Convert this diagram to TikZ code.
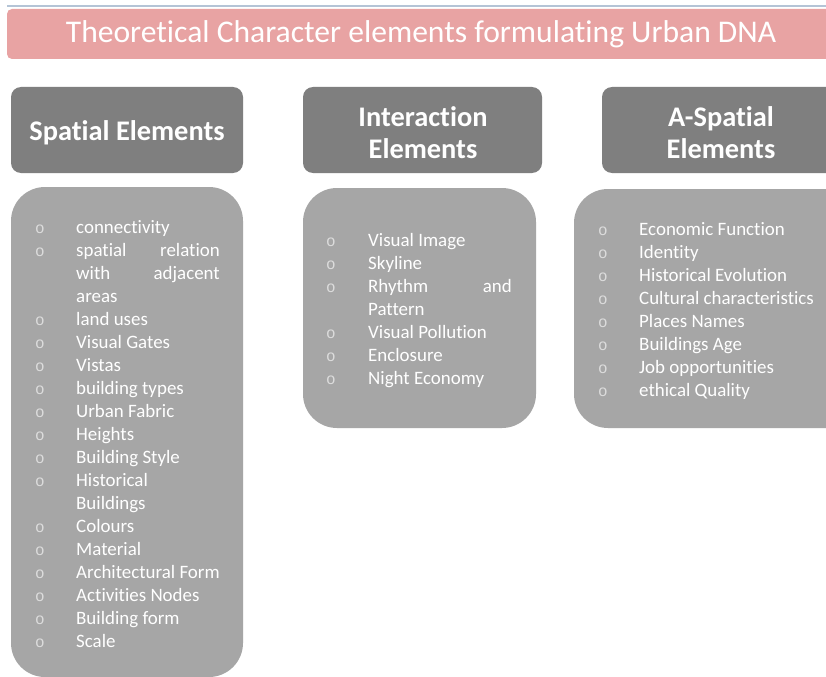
\documentclass[tikz,border=0pt]{standalone}
\usepackage{fontspec}
\setmainfont{Carlito}[Ligatures=NoCommon,RawFeature={-liga;-clig;-calt;-dlig}]
\newfontfamily\bulletfont{Liberation Mono}
\definecolor{titlepink}{HTML}{E8A3A3}
\definecolor{hdrgrey}{HTML}{7F7F7F}
\definecolor{boxgrey}{HTML}{A6A6A6}
\definecolor{bulgrey}{HTML}{DCDCDC}
\definecolor{topline}{HTML}{B4C4D6}
\begin{document}
\begin{tikzpicture}[x=1bp,y=-1bp,
  hdrfill/.style={fill=hdrgrey, rounded corners=10bp},
  boxfill/.style={fill=boxgrey, rounded corners=34bp},
  hdrtext/.style={text=white, align=center, inner sep=0, yshift=-2bp, font=\bfseries\fontsize{28.5}{32}\selectfont},
  item/.style={anchor=mid west, inner sep=0, yshift=-4bp, text=white, font=\fontsize{19}{23}\selectfont},
  itemr/.style={anchor=mid east, inner sep=0, yshift=-4bp, text=white, font=\fontsize{19}{23}\selectfont},
  bul/.style={anchor=mid, inner sep=0, yshift=-4bp, text=bulgrey, font=\bulletfont\fontsize{16}{18}\selectfont}]
\clip (0,0) rectangle (826,677);
\fill[white] (0,0) rectangle (826,677);
% top line and title
\draw[topline, line width=2bp] (7,6) -- (830,6);
\fill[titlepink, rounded corners=5bp] (7,9) rectangle (850,59);
\node[text=white, inner sep=0, font=\fontsize{31.7}{36}\selectfont] (title) at (421,34) {Theoretical Character elements formulating Urban DNA};
% header boxes
\fill[hdrfill] (11,87) rectangle (243,173);
\fill[hdrfill] (303,87) rectangle (542,173);
\fill[hdrfill] (602,87) rectangle (860,173);
\node[hdrtext] (h1) at (127,131) {Spatial Elements};
\node[hdrtext] (h2) at (423,131) {Interaction\\Elements};
\node[hdrtext] (h3) at (721,131) {A-Spatial\\Elements};
% content boxes
\fill[boxfill] (11,187) rectangle (243,677);
\fill[boxfill] (303,188) rectangle (536,428);
\fill[boxfill] (574,189) rectangle (870,428);
% column 1
\foreach \y/\t [count=\i] in {227/connectivity,250/,319/land uses,342/Visual Gates,365/Vistas,388/building types,411/Urban Fabric,434/Heights,457/Building Style,480/Historical,526/Colours,549/Material,572/Architectural Form,595/Activities Nodes,618/Building form,641/Scale}{
  \node[bul] (b1-\i) at (40,\y) {o};
  \node[item] (t1-\i) at (76,\y) {\t};
}
\node[item] (t1a) at (76,250) {spatial};
\node[itemr] (t1b) at (220,250) {relation};
\node[item] (t1c) at (76,273) {with};
\node[itemr] (t1d) at (220,273) {adjacent};
\node[item] (t1e) at (76,296) {areas};
\node[item] (t1f) at (76,503) {Buildings};
% column 2
\foreach \y/\t [count=\i] in {240/Visual Image,263/Skyline,286/,332/Visual Pollution,355/Enclosure,378/Night Economy}{
  \node[bul] (b2-\i) at (331,\y) {o};
  \node[item] (t2-\i) at (368,\y) {\t};
}
\node[item] (t2a) at (368,286) {Rhythm};
\node[itemr] (t2b) at (512,286) {and};
\node[item] (t2c) at (368,309) {Pattern};
% column 3
\foreach \y/\t [count=\i] in {229/Economic Function,252/Identity,275/Historical Evolution,298/Cultural characteristics,321/Places Names,344/Buildings Age,367/Job opportunities,390/ethical Quality}{
  \node[bul] (b3-\i) at (603,\y) {o};
  \node[item] (t3-\i) at (639,\y) {\t};
}
\end{tikzpicture}
\end{document}
